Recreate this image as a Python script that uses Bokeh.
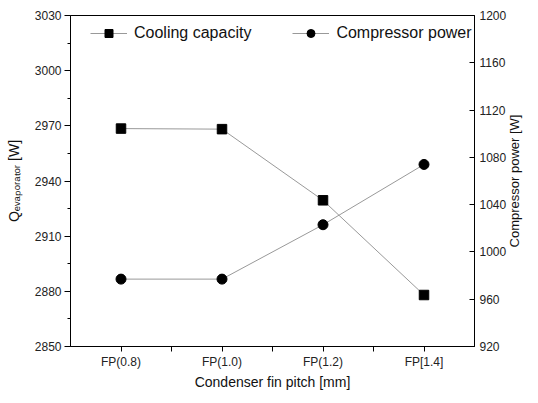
import math
from bokeh.plotting import figure
from bokeh.models import Range1d, LinearAxis, FixedTicker, Legend, LegendItem, Label
from bokeh.embed import file_html
from bokeh.resources import INLINE

# ---- data ----
categories = ["FP(0.8)", "FP(1.0)", "FP(1.2)", "FP[1.4]"]
cooling_capacity = [2968.5, 2968.2, 2929.5, 2878.0]
compressor_power = [977.0, 977.0, 1023.0, 1074.0]
left_ticks = [2850, 2880, 2910, 2940, 2970, 3000, 3030]
right_ticks = [920, 960, 1000, 1040, 1080, 1120, 1160, 1200]

x = [i + 1 for i in range(len(categories))]
FONT = "Liberation Sans"
FW, FH = 404, 331
BL = 70

p = figure(frame_width=FW, frame_height=FH, output_backend="svg", toolbar_location=None,
           x_range=Range1d(0.5, 4.5), y_range=Range1d(2850, 3030),
           min_border_left=BL, min_border_top=15, min_border_right=48, min_border_bottom=5)
p.extra_y_ranges = {"power": Range1d(920, 1200)}
p.grid.visible = False
p.outline_line_color = "black"
p.outline_line_width = 1
p.background_fill_color = "white"
p.border_fill_color = "white"

def style_labels(ax):
    ax.major_label_text_font = FONT
    ax.major_label_text_font_size = "12px"
    ax.major_label_text_color = "#222222"
    ax.axis_label_text_font = FONT
    ax.axis_label_text_font_style = "normal"
    ax.axis_label_text_color = "#111111"
    ax.axis_line_color = "black"

# x axis
xa = p.xaxis[0]
xa.ticker = FixedTicker(ticks=x, minor_ticks=[1.5, 2.5, 3.5])
xa.major_label_overrides = {xi: c for xi, c in zip(x, categories)}
xa.major_tick_out = 5
xa.major_tick_in = 0
xa.minor_tick_out = 5
xa.minor_tick_in = 0
xa.major_label_standoff = 3
style_labels(xa)
xa.axis_label = "Condenser fin pitch [mm]"
xa.axis_label_text_font_size = "14px"
xa.axis_label_standoff = 2

# left axis
ya = p.yaxis[0]
ya.ticker = FixedTicker(ticks=left_ticks,
                        minor_ticks=[t + 15 for t in left_ticks[:-1]])
ya.major_tick_out = 6
ya.major_tick_in = 0
ya.minor_tick_out = 3
ya.minor_tick_in = 0
ya.major_label_standoff = 3
style_labels(ya)
ya.axis_label = "Q\u2091\u1d65\u2090\u209a\u2092\u1d63\u2090\u209c\u2092\u1d63 [W]"
ya.axis_label_text_font_size = "14px"
ya.axis_label_standoff = 10

# right axis
ra = LinearAxis(y_range_name="power",
                ticker=FixedTicker(ticks=right_ticks, minor_ticks=[]))
ra.major_tick_out = 0
ra.major_tick_in = 5
ra.minor_tick_out = 0
ra.minor_tick_in = 0
ra.major_label_standoff = 5
style_labels(ra)
p.add_layout(ra, "right")

# right-axis title, reading bottom-to-top, placed in the right side panel
label_x = 0.5 + (514 - BL) / FW * 4.0
p.add_layout(Label(x=label_x, y=1060, y_range_name="power",
                   text="Compressor power [W]", angle=math.pi / 2,
                   text_align="center", text_baseline="middle",
                   text_font=FONT, text_font_size="13px", text_color="#111111"),
             "right")

# series
l1 = p.line(x, cooling_capacity, line_color="#999999", line_width=1)
s1 = p.scatter(x, cooling_capacity, marker="square", size=9.5,
               fill_color="black", line_color="black")
l2 = p.line(x, compressor_power, line_color="#999999", line_width=1, y_range_name="power")
s2 = p.scatter(x, compressor_power, marker="circle", size=10,
               fill_color="black", line_color="black", y_range_name="power")

legend = Legend(items=[LegendItem(label="Cooling capacity", renderers=[l1, s1]),
                       LegendItem(label="Compressor power", renderers=[l2, s2])],
                orientation="horizontal", location=(20, FH - 28),
                glyph_width=37, glyph_height=20, label_height=20,
                label_standoff=7, spacing=41, padding=0, margin=0,
                border_line_color=None, background_fill_alpha=0,
                label_text_font=FONT, label_text_font_size="16px",
                label_text_color="#111111")
p.add_layout(legend, "center")

open("out.html", "w").write(file_html(p, INLINE))
